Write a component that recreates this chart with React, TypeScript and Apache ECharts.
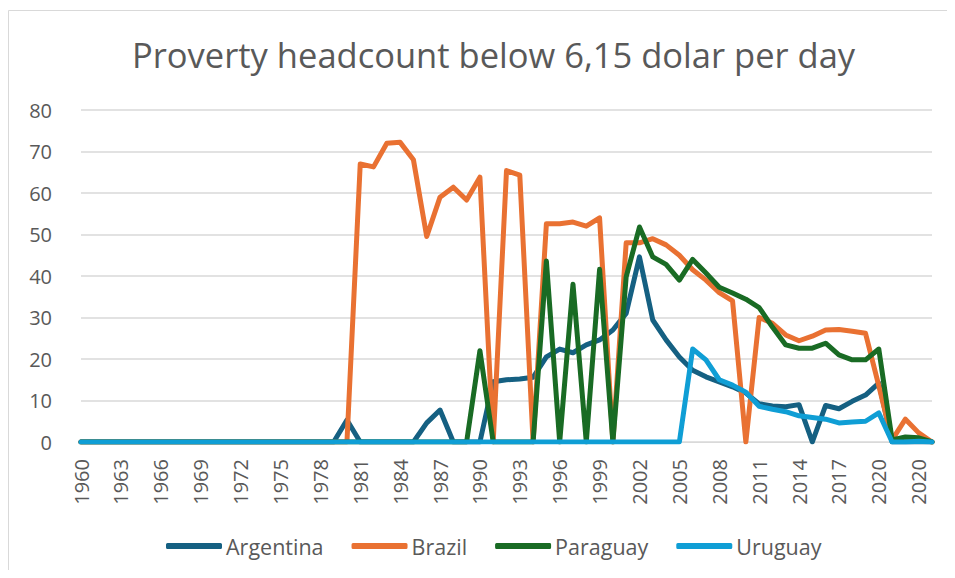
import React, { useEffect, useRef } from "react";
import * as echarts from "echarts";

const TITLE = "Proverty headcount below 6,15 dolar per day";

const years: string[] = [
  "1960","1961","1962","1963","1964","1965","1966","1967","1968","1969",
  "1970","1971","1972","1973","1974","1975","1976","1977","1978","1979",
  "1980","1981","1982","1983","1984","1985","1986","1987","1988","1989",
  "1990","1991","1992","1993","1994","1995","1996","1997","1998","1999",
  "2000","2001","2002","2003","2004","2005","2006","2007","2008","2009",
  "2010","2011","2012","2013","2014","2015","2016","2017","2018","2019",
  "2020","2021","2022","2020","2024",
];

const yTicks = [0, 10, 20, 30, 40, 50, 60, 70, 80];

// 1960-1969, 1970-1979, 1980-1989, 1990-1999, 2000-2009, 2010-2019, 2020-...
const argentina = [
  0, 0, 0, 0, 0, 0, 0, 0, 0, 0,
  0, 0, 0, 0, 0, 0, 0, 0, 0, 0,
  5.3, 0, 0, 0, 0, 0, 4.6, 7.7, 0, 0,
  0, 14.5, 15, 15.2, 15.6, 20.5, 22.4, 21.5, 23.4, 24.6,
  27, 31, 44.6, 29.4, 24.6, 20.5, 17.3, 15.7, 14.5, 13.3,
  11.8, 9.2, 8.7, 8.5, 9.0, 0, 8.8, 8.0, 9.8, 11.3,
  14.2, 0, 0, 0, 0,
];

const brazil = [
  0, 0, 0, 0, 0, 0, 0, 0, 0, 0,
  0, 0, 0, 0, 0, 0, 0, 0, 0, 0,
  0, 67, 66.3, 72, 72.2, 68, 49.5, 59, 61.4, 58.3,
  63.8, 0, 65.4, 64.3, 0, 52.6, 52.6, 53, 52, 54,
  0, 48, 48, 49, 47.5, 45, 41.5, 39, 36, 34,
  0, 30, 28.6, 25.8, 24.4, 25.5, 27, 27.1, 26.7, 26.2,
  13.5, 0.5, 5.5, 2.2, 0,
];

const paraguay = [
  0, 0, 0, 0, 0, 0, 0, 0, 0, 0,
  0, 0, 0, 0, 0, 0, 0, 0, 0, 0,
  0, 0, 0, 0, 0, 0, 0, 0, 0, 0,
  22, 0, 0, 0, 0, 43.6, 0, 38, 0, 41.6,
  0, 39.8, 51.8, 44.6, 42.8, 39, 44, 40.7, 37.3, 35.9,
  34.4, 32.4, 27.7, 23.4, 22.6, 22.6, 23.8, 21, 19.8, 19.8,
  22.4, 0.5, 1.2, 1, 0,
];

const uruguay = [
  0, 0, 0, 0, 0, 0, 0, 0, 0, 0,
  0, 0, 0, 0, 0, 0, 0, 0, 0, 0,
  0, 0, 0, 0, 0, 0, 0, 0, 0, 0,
  0, 0, 0, 0, 0, 0, 0, 0, 0, 0,
  0, 0, 0, 0, 0, 0, 22.4, 19.8, 15, 13.7,
  12, 8.6, 7.9, 7.3, 6.3, 5.9, 5.5, 4.6, 4.8, 5,
  7, 0, 0, 0.2, 0,
];

const seriesNames = ["Argentina", "Brazil", "Paraguay", "Uruguay"];
const seriesData = [argentina, brazil, paraguay, uruguay];
const colors = ["#156082", "#E97132", "#196B24", "#0F9ED5"];

const FONT = "'Open Sans', 'Noto Sans', sans-serif";
const TEXT = "#595959";

export default function App() {
  const ref = useRef<HTMLDivElement>(null);
  useEffect(() => {
    if (!ref.current) return;
    const chart = echarts.init(ref.current, undefined, { renderer: "svg" });
    chart.setOption({
      animation: false,
      backgroundColor: "#ffffff",
      color: colors,
      title: {
        text: TITLE,
        left: 119,
        top: 24,
        textStyle: { fontFamily: FONT, fontSize: 34.5, fontWeight: "normal", color: TEXT },
      },
      graphic: [
        {
          type: "rect",
          shape: { x: 0.5, y: 2.5, width: 1200, height: 1200 },
          style: { fill: "none", stroke: "#d9d9d9", lineWidth: 1 },
          silent: true,
        },
      ],
      legend: {
        bottom: 8,
        left: 153,
        icon: "roundRect",
        itemWidth: 56,
        itemHeight: 6,
        itemGap: 28,
        textStyle: { fontFamily: FONT, fontSize: 21.5, color: TEXT, padding: [0, 0, 0, -1] },
        data: seriesNames,
      },
      grid: { left: 73, right: 23, top: 102, bottom: 128, containLabel: false },
      xAxis: {
        type: "category",
        data: years,
        boundaryGap: false,
        axisLine: { lineStyle: { color: "#d9d9d9", width: 1 } },
        axisTick: { show: false },
        axisLabel: {
          interval: 2,
          rotate: 90,
          margin: 17,
          fontFamily: FONT,
          fontSize: 20,
          color: TEXT,
        },
      },
      yAxis: {
        type: "value",
        min: yTicks[0],
        max: yTicks[yTicks.length - 1],
        interval: 10,
        axisLine: { show: false },
        axisTick: { show: false },
        splitLine: { lineStyle: { color: "#d9d9d9", width: 1.5 } },
        axisLabel: { margin: 29, fontFamily: FONT, fontSize: 20, color: TEXT },
      },
      series: seriesNames.map((name, i) => ({
        name,
        type: "line",
        data: seriesData[i],
        symbol: "none",
        lineStyle: { width: 5, color: colors[i], cap: "round", join: "round" },
        itemStyle: { color: colors[i] },
      })),
    });
    return () => chart.dispose();
  }, []);
  return <div ref={ref} style={{ width: 947, height: 562 }} />;
}
